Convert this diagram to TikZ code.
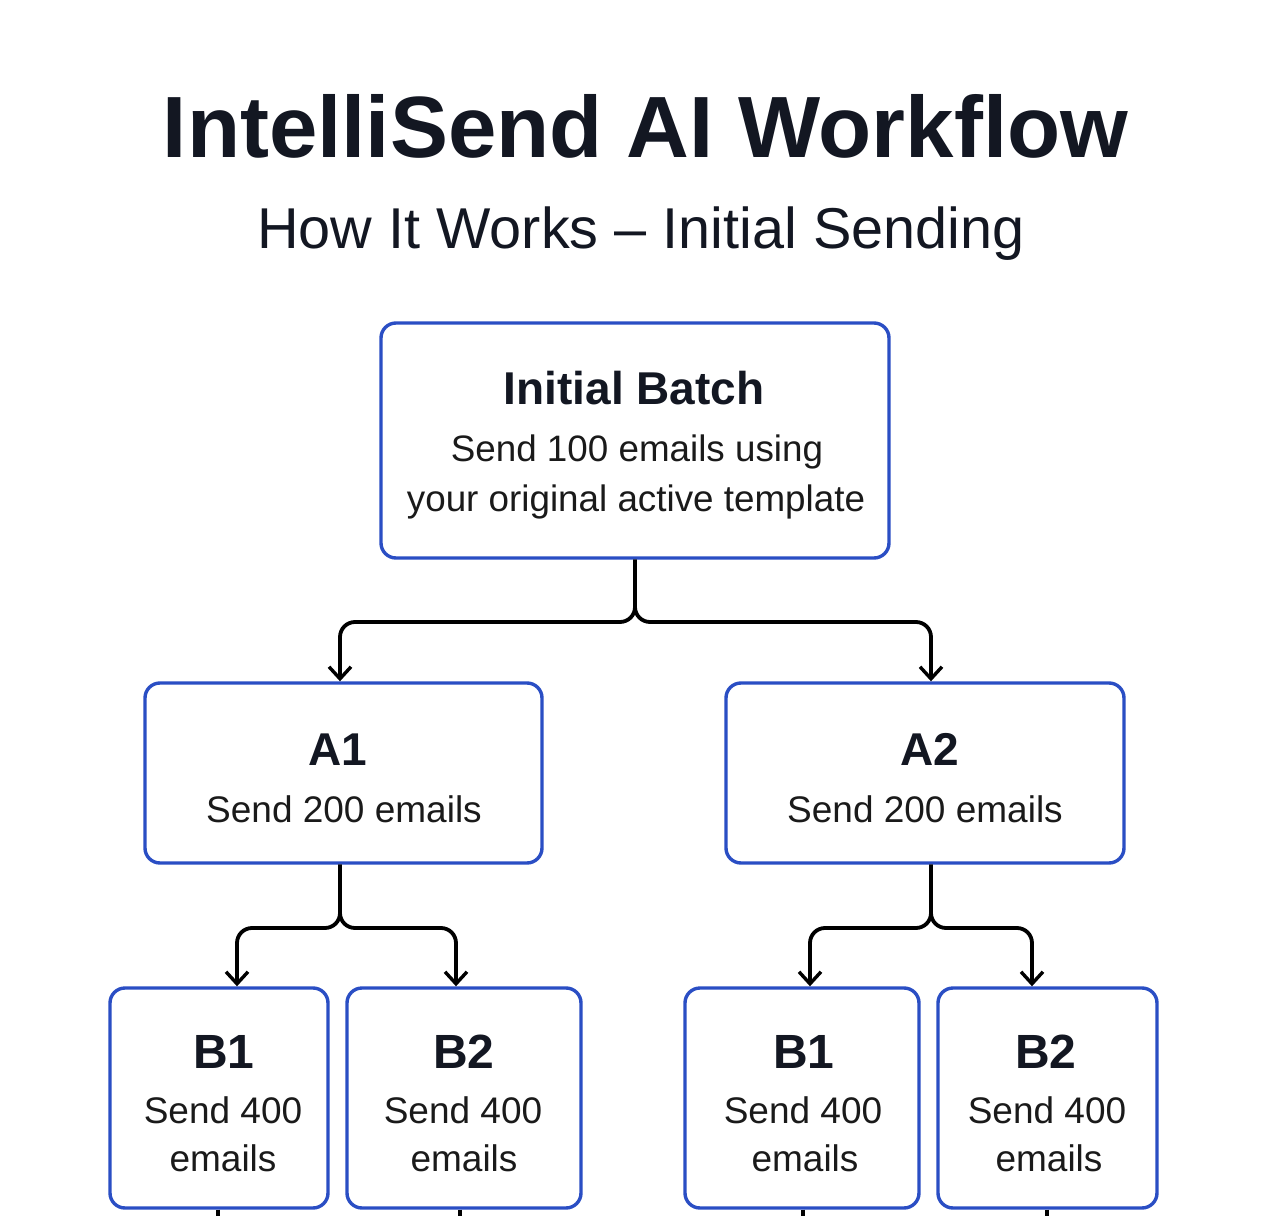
\documentclass[tikz,border=0pt]{standalone}
\usepackage{fontspec}
\setmainfont{Liberation Sans}
\usetikzlibrary{arrows.meta}
\definecolor{boxblue}{HTML}{2A4EC4}
\definecolor{ink}{HTML}{131722}
\definecolor{bodyink}{HTML}{1A1A1A}
\begin{document}
\begin{tikzpicture}[x=0.5pt,y=-0.5pt,
  box/.style={draw=boxblue, line width=1.7pt, rounded corners=7.5pt, fill=white, inner sep=0pt},
  conn/.style={draw=black, line width=1.9pt, rounded corners=7.5pt, -{Straight Barb[length=6pt,width=11pt,line width=1.7pt]}},
  stub/.style={draw=black, line width=1.9pt},
  head/.style={anchor=base, text=ink, font=\bfseries\fontsize{23}{27}\selectfont, inner sep=0pt},
  headb/.style={anchor=base, text=ink, font=\bfseries\fontsize{24}{28}\selectfont, inner sep=0pt},
  body/.style={anchor=base, text=bodyink, font=\fontsize{18.4}{22}\selectfont, inner sep=0pt},
  bodyb/.style={anchor=base, text=bodyink, font=\fontsize{18.5}{22}\selectfont, inner sep=0pt}]
\fill[white] (0,0) rectangle (1266,1216);
\useasboundingbox (0,0) rectangle (1266,1216);

% titles
\node[anchor=base, text=ink, font=\bfseries\fontsize{43.5}{50}\selectfont, inner sep=0pt] (title) at (645.5,157) {IntelliSend AI Workflow};
\node[anchor=base, text=ink, font=\fontsize{28.8}{34}\selectfont, inner sep=0pt] (subtitle) at (641,248) {How It Works – Initial Sending};

% boxes
\node[box, minimum width=254pt, minimum height=117.5pt] (ib) at (635,440.5) {};
\node[box, minimum width=198.5pt, minimum height=90pt] (a1) at (343.5,773) {};
\node[box, minimum width=199pt, minimum height=90pt] (a2) at (925,773) {};
\node[box, minimum width=109pt, minimum height=110pt] (b1l) at (219,1098) {};
\node[box, minimum width=117pt, minimum height=110pt] (b2l) at (464,1098) {};
\node[box, minimum width=117pt, minimum height=110pt] (b1r) at (802,1098) {};
\node[box, minimum width=109.5pt, minimum height=110pt] (b2r) at (1047.5,1098) {};

% box texts
\node[head] (ibh) at (634,404) {Initial Batch};
\node[body] (ib1) at (637,461) {Send 100 emails using};
\node[body] (ib2) at (636,511) {your original active template};

\node[head] (a1h) at (338,765) {A1};
\node[bodyb] (a1t) at (344,822) {Send 200 emails};
\node[head] (a2h) at (930,765) {A2};
\node[bodyb] (a2t) at (925,822) {Send 200 emails};

\node[headb] (b1lh) at (224,1068) {B1};
\node[bodyb] (b1l1) at (223,1123) {Send 400};
\node[bodyb] (b1l2) at (223,1171) {emails};
\node[headb] (b2lh) at (464,1068) {B2};
\node[bodyb] (b2l1) at (463,1123) {Send 400};
\node[bodyb] (b2l2) at (464,1171) {emails};
\node[headb] (b1rh) at (804,1068) {B1};
\node[bodyb] (b1r1) at (803,1123) {Send 400};
\node[bodyb] (b1r2) at (805,1171) {emails};
\node[headb] (b2rh) at (1046,1068) {B2};
\node[bodyb] (b2r1) at (1047,1123) {Send 400};
\node[bodyb] (b2r2) at (1049,1171) {emails};

% connectors
\draw[conn] (ib.south) -- (635,622) -| (340,0 |- a1.north);
\draw[conn] (ib.south) -- (635,622) -| (931,0 |- a2.north);
\draw[conn] (340,0 |- a1.south) -- (340,928) -| (237,0 |- b1l.north);
\draw[conn] (340,0 |- a1.south) -- (340,928) -| (456,0 |- b2l.north);
\draw[conn] (931,0 |- a2.south) -- (931,928) -| (810,0 |- b1r.north);
\draw[conn] (931,0 |- a2.south) -- (931,928) -| (1032,0 |- b2r.north);

% stubs leaving the picture
\coordinate (e1) at (218,1216);
\coordinate (e2) at (460,1216);
\coordinate (e3) at (803,1216);
\coordinate (e4) at (1047,1216);
\draw[stub] (218,0 |- b1l.south) -- (e1);
\draw[stub] (460,0 |- b2l.south) -- (e2);
\draw[stub] (803,0 |- b1r.south) -- (e3);
\draw[stub] (1047,0 |- b2r.south) -- (e4);
\end{tikzpicture}
\end{document}
